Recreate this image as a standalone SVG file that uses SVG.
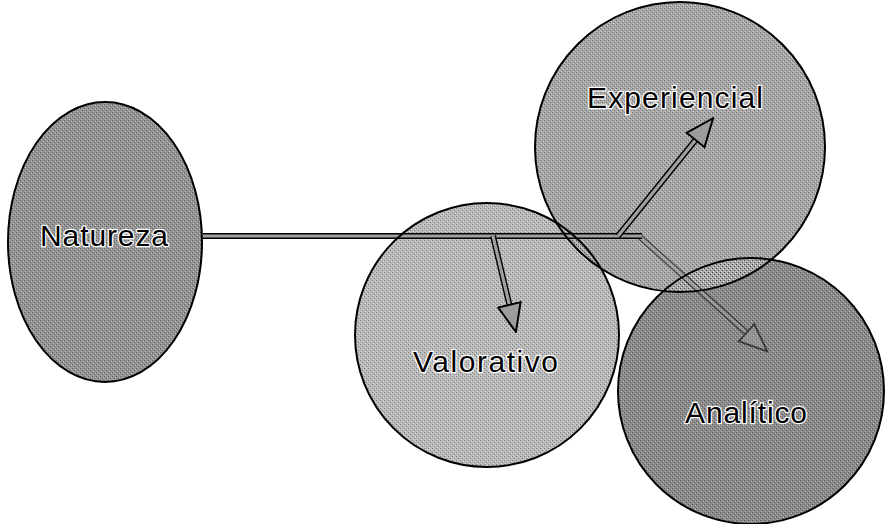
<svg xmlns="http://www.w3.org/2000/svg" width="885" height="524" viewBox="0 0 885 524">
<style>
.fillN{fill:#949494}
.fillE{fill:#a8a8a8}
.fillV{fill:#bababa}
.fillA{fill:#8a8a8a}
.outline{fill:none;stroke:#000;stroke-width:2}
.lbl{font-family:"Liberation Sans",Arial,sans-serif;font-size:30px;fill:#000;stroke:#fff;stroke-width:2.5;paint-order:stroke;stroke-linejoin:round}
.edgeOut{fill:none;stroke:#000;stroke-width:6;stroke-linecap:butt}
.edgeIn{fill:none;stroke:#a0a0a0;stroke-width:3.2;stroke-linecap:butt}
.faint{opacity:0.55}
</style>
<defs>
<pattern id="grain" width="4" height="4" patternUnits="userSpaceOnUse">
<rect width="4" height="4" fill="none"/>
<rect x="0" y="0" width="1" height="1" fill="#000" opacity="0.35"/>
<rect x="2" y="2" width="1" height="1" fill="#000" opacity="0.35"/>
<rect x="3" y="1" width="1" height="1" fill="#fff" opacity="0.4"/>
<rect x="1" y="3" width="1" height="1" fill="#fff" opacity="0.4"/>
</pattern>
<marker id="arrow" viewBox="0 0 30 26" markerWidth="30" markerHeight="26" refX="1" refY="13" orient="auto" markerUnits="userSpaceOnUse">
<path d="M1,1.5 L29,13 L1,24.5 Z" fill="#9c9c9c" stroke="#000" stroke-width="2" stroke-linejoin="miter"/>
</marker>
</defs>
<rect width="885" height="524" fill="#fff"/>

<g id="fills">
<ellipse class="fillN" cx="105" cy="242" rx="97" ry="140"/>
<circle class="fillV" cx="487" cy="335" r="132"/>
<circle class="fillA" cx="751" cy="391" r="133"/>
<circle class="fillE" cx="680" cy="147" r="145"/>
<ellipse fill="url(#grain)" cx="105" cy="242" rx="97" ry="140"/>
<circle fill="url(#grain)" cx="487" cy="335" r="132"/>
<circle fill="url(#grain)" cx="751" cy="391" r="133"/>
<circle fill="url(#grain)" cx="680" cy="147" r="145"/>
</g>

<g id="connectors">
<g class="faint">
<line class="edgeOut" x1="640" y1="237" x2="746.5" y2="332.7"/>
<line class="edgeIn" x1="640" y1="237" x2="746.5" y2="332.7" marker-end="url(#arrow)"/>
</g>
<line class="edgeOut" x1="203" y1="236" x2="642" y2="236"/>
<line class="edgeIn" x1="203" y1="236" x2="642" y2="236"/>
<line class="edgeOut" x1="618" y1="236" x2="695.5" y2="140"/>
<line class="edgeIn" x1="618" y1="236" x2="695.5" y2="140" marker-end="url(#arrow)"/>
<line class="edgeOut" x1="493" y1="236" x2="509.4" y2="304.8"/>
<line class="edgeIn" x1="493" y1="236" x2="509.4" y2="304.8" marker-end="url(#arrow)"/>
</g>

<g id="natureza">
<ellipse class="outline" cx="105" cy="242" rx="97" ry="140"/>
<text class="lbl" x="40" y="246" textLength="128" lengthAdjust="spacing">Natureza</text>
</g>
<g id="valorativo">
<circle class="outline" cx="487" cy="335" r="132"/>
<text class="lbl" x="413" y="372" textLength="145" lengthAdjust="spacing">Valorativo</text>
</g>
<g id="analitico">
<circle class="outline" cx="751" cy="391" r="133"/>
<text class="lbl" x="685" y="423" textLength="122" lengthAdjust="spacing">Analítico</text>
</g>
<g id="experiencial">
<circle class="outline" cx="680" cy="147" r="145"/>
<text class="lbl" x="587" y="108" textLength="176" lengthAdjust="spacing">Experiencial</text>
</g>
</svg>
